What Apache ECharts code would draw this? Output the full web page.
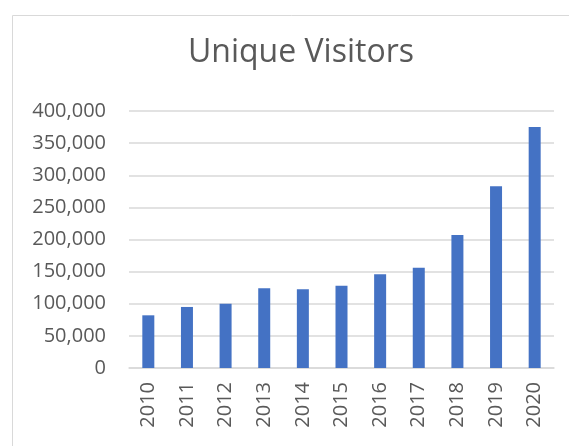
<!DOCTYPE html>
<html><head><meta charset="utf-8">
<script src="https://cdn.jsdelivr.net/npm/echarts@6/dist/echarts.min.js"></script>
<style>html,body{margin:0;padding:0;background:#fff}#c{width:569px;height:446px}</style>
</head><body><div id="c"></div>
<script>
const categories = ['2010','2011','2012','2013','2014','2015','2016','2017','2018','2019','2020'];
const visitors = [82000, 95000, 100000, 124000, 122500, 128000, 146000, 156000, 207000, 283000, 375000];
const titleText = 'Unique Visitors';

const chart = echarts.init(document.getElementById('c'), null, {renderer:'canvas'});
chart.setOption({
  animation:false,
  graphic:[{type:'rect', left:10, top:13, shape:{width:600, height:500}, style:{fill:'none', stroke:'#d9d9d9', lineWidth:1}, silent:true, z:-1}],
  title:{text:titleText, left:296, top:32, textAlign:'center',
    textStyle:{fontFamily:'Open Sans', fontSize:32, fontWeight:'normal', color:'#595959'}},
  grid:{left:129, right:15, top:111, bottom:78, containLabel:false},
  xAxis:{type:'category', data:categories,
    axisLine:{lineStyle:{color:'#d9d9d9', width:1.5}}, axisTick:{show:false},
    axisLabel:{rotate:90, margin:14, fontFamily:'Open Sans', fontSize:20, color:'#595959'}},
  yAxis:{type:'value', min:0, max:400000, interval:50000,
    axisLine:{show:false}, axisTick:{show:false},
    splitLine:{lineStyle:{color:'#d9d9d9', width:1.5}},
    axisLabel:{margin:23, fontFamily:'Open Sans', fontSize:20, color:'#595959',
      formatter:v=>v.toLocaleString('en-US')}},
  series:[{type:'bar', data:visitors, barWidth:12, itemStyle:{color:'#4472C4'}}]
});
</script></body></html>
